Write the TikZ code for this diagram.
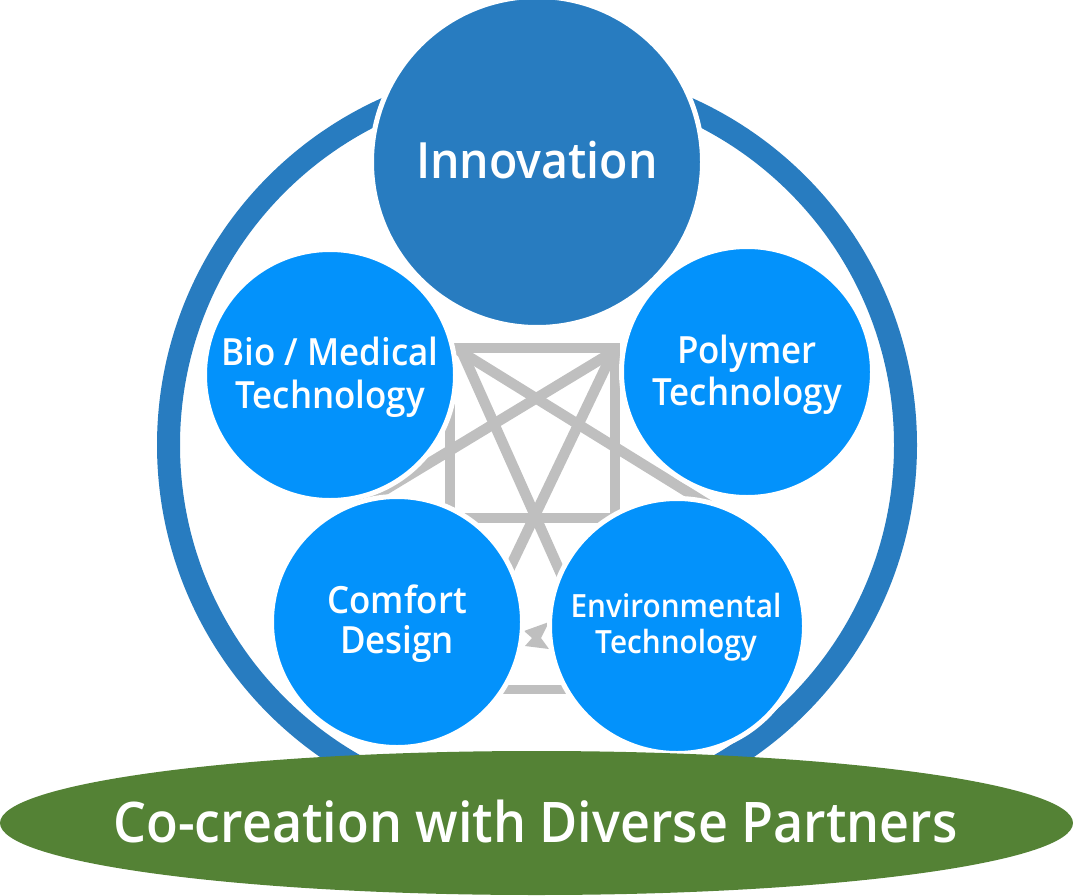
\documentclass[tikz,border=0pt]{standalone}
\usepackage{fontspec}
\usetikzlibrary{shapes.geometric}
\IfFontExistsTF{Open Sans SemiBold}{%
  \newfontfamily\labfont[FakeStretch=0.93]{Open Sans SemiBold}}{%
  \IfFontExistsTF{Open Sans Semibold}{%
    \newfontfamily\labfont[FakeStretch=0.93]{Open Sans Semibold}}{%
    \newfontfamily\labfont[FakeStretch=0.93,FakeBold=0.6]{Open Sans}}}
\definecolor{ringblue}{RGB}{40,124,192}
\definecolor{lightblue}{RGB}{3,146,251}
\definecolor{grassgreen}{RGB}{84,130,53}
\definecolor{greyline}{RGB}{191,191,191}
\tikzset{
  bigc/.style={circle, fill=ringblue, draw=white, line width=5pt, inner sep=0pt, minimum size=331pt},
  smallc/.style={circle, fill=lightblue, draw=white, line width=5pt, inner sep=0pt, minimum size=#1},
  lab/.style={text=white, anchor=base, inner sep=0pt, font=\labfont\fontsize{#1}{#1}\selectfont},
  link/.style={draw=greyline, line width=10.5pt},
}
\begin{document}
\begin{tikzpicture}[x=1pt,y=-1pt]
\useasboundingbox (0,0) rectangle (1073,896);
% outer ring
\node[circle, draw=ringblue, line width=23pt, inner sep=0pt, minimum size=737pt] (ring) at (537,445) {};
% grey network graphic
\draw[link] (450,348) rectangle (615,518);
\draw[link] (462,352) -- (566,585);
\draw[link] (613,352) -- (505,578);
\draw[link] (458,350) -- (728,517);
\draw[link] (616,350) -- (345,514);
\fill[greyline] (524,631) -- (549,622) -- (541,638) -- (549,649) -- (525,646) -- (532,638) -- cycle;
\fill[greyline] (500,685) rectangle (575,694);
% circles
\node[smallc=251pt] (bio) at (330,375) {};
\node[smallc=251pt] (poly) at (747,372) {};
\node[smallc=251pt] (comfort) at (397,622) {};
\node[smallc=255pt] (env) at (677,626) {};
\node[bigc] (innov) at (537,162) {};
% base ellipse
\node[ellipse, fill=grassgreen, inner sep=0pt, minimum width=1073pt, minimum height=144pt] (base) at (536.5,823) {};
% labels
\node[lab=50pt] (tinnov) at (537,179) {Innovation};
\node[lab=37.5pt] (tbio1) at (330,365) {Bio / Medical};
\node[lab=37.5pt] (tbio2) at (330,408) {Technology};
\node[lab=37.5pt] (tpoly1) at (747,363) {Polymer};
\node[lab=37.5pt] (tpoly2) at (747,405) {Technology};
\node[lab=37.5pt] (tcom1) at (397,613) {Comfort};
\node[lab=37.5pt] (tcom2) at (397,653) {Design};
\node[lab=32pt] (tenv1) at (676,617) {Environmental};
\node[lab=32pt] (tenv2) at (676,653) {Technology};
\node[lab=56pt] (tbase) at (535.5,842) {Co-creation with Diverse Partners};
\end{tikzpicture}
\end{document}
